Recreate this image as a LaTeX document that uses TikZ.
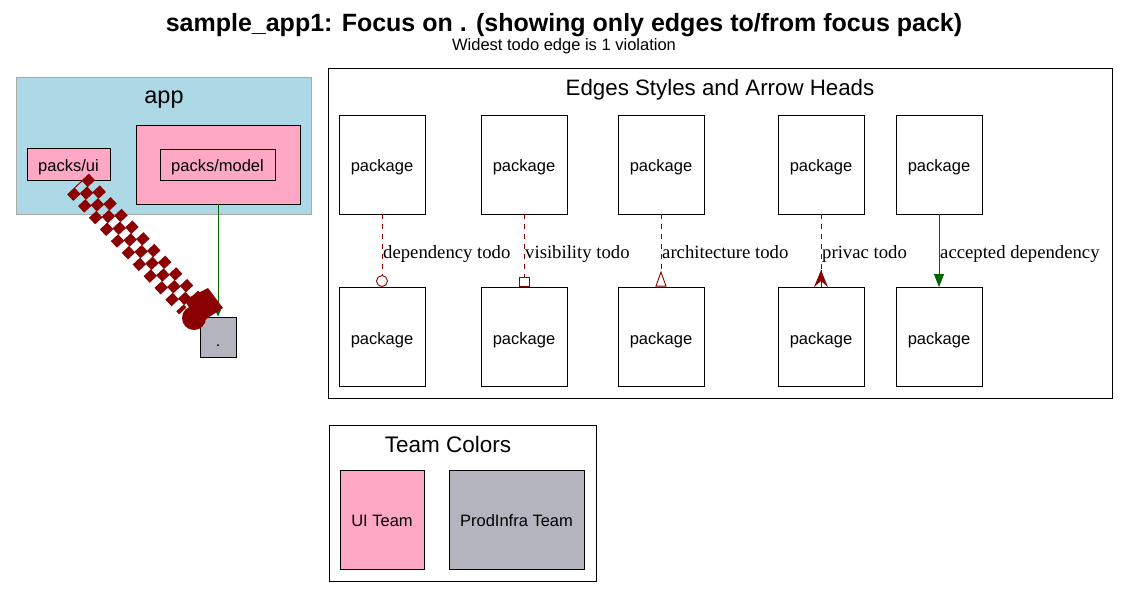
\documentclass[tikz,border=0pt]{standalone}
\usepackage{fontspec}
\setmainfont{Liberation Sans}
\newfontfamily\seriffont{Liberation Serif}
\usetikzlibrary{arrows.meta}
\definecolor{clblue}{HTML}{ADD8E6}
\definecolor{tpink}{HTML}{FFA8C6}
\definecolor{tgray}{HTML}{B4B4BE}
\definecolor{dred}{HTML}{8B0000}
\definecolor{dgreen}{HTML}{006400}
\definecolor{cgray}{HTML}{A9A9A9}
\tikzset{
  nfont/.style={font=\fontsize{16.5}{18}\selectfont, text height=14pt, text depth=0pt},
  pkgbox/.style={draw=black, fill=white, line width=0.9pt, minimum width=86pt, minimum height=99pt, inner sep=0pt, nfont},
  lbl/.style={anchor=base west, inner sep=0pt, font=\seriffont\fontsize{18.7}{21}\selectfont},
  todo/.style={draw=dred, line width=0.9pt, dash pattern=on 5pt off 5pt},
  fat todo/.style={draw=dred, line width=10pt, dash pattern=on 9pt off 7pt},
  frame/.style={draw=black, line width=0.9pt},
}
\begin{document}
\begin{tikzpicture}[x=1pt,y=-1pt]
\useasboundingbox (0,0) rectangle (1128,598);
\fill[white] (0,0) rectangle (1128,598);
% title
\node[font=\bfseries\fontsize{25}{27}\selectfont, inner sep=0pt] (title) at (564,25) {sample\_app1: Focus on . (showing only edges to/from focus pack)};
\node[font=\fontsize{16.5}{18}\selectfont, inner sep=0pt] (subtitle) at (564,46) {Widest todo edge is 1 violation};
% app cluster
\draw[cgray, fill=clblue, line width=1pt] (16,77) rectangle (311,214);
\node[font=\fontsize{23.5}{26}\selectfont, inner sep=0pt] (applbl) at (164,100) {app};
\node[draw=black, fill=tpink, line width=0.9pt, minimum width=83pt, minimum height=32pt, inner sep=0pt, nfont] (ui) at (68.5,164) {packs/ui};
\node[draw=black, fill=tpink, line width=0.9pt, minimum width=164pt, minimum height=79pt, inner sep=0pt] (modelc) at (218,164.5) {};
\node[draw=black, fill=tpink, line width=0.9pt, minimum width=115pt, minimum height=31pt, inner sep=0pt, nfont] (model) at (217.5,164.5) {packs/model};
\node[draw=black, fill=tgray, line width=0.9pt, minimum width=36pt, minimum height=40pt, inner sep=0pt, font=\fontsize{16}{18}\selectfont, text height=18pt, text depth=0pt] (focus) at (218,337) {.};
% green edge
\draw[dgreen, line width=0.9pt, -{Triangle[length=7pt,width=6pt]}] (modelc.south -| focus.north) -- (focus.north);
% thick dashed edge
\coordinate (ta) at (78,184);
\coordinate (tb) at (190,304);
\draw[fat todo] ([shift={(7.2,-6.9)}]ta) -- ([shift={(7.2,-6.9)}]tb);
\draw[fat todo, dash phase=8pt] (ta) -- (tb);
\draw[fat todo] ([shift={(-7.2,6.9)}]ta) -- ([shift={(-7.2,6.9)}]tb);
\fill[dred] (194,318) circle (12);
\fill[dred] (184,300) -- (208,288) -- (223,308) -- (200,323) -- cycle;
% legend
\draw[frame] (328,68) rectangle (1112,398);
\node[font=\fontsize{22.3}{25}\selectfont, inner sep=0pt] (legtitle) at (720,90) {Edges Styles and Arrow Heads};
\foreach \n/\x in {a/382,b/524,c/661,d/821,e/939}{
  \node[pkgbox] (\n1) at (\x,164.5) {package};
  \node[pkgbox] (\n2) at (\x,337) {package};
}
% odot
\draw[todo] (a1.south) -- ([yshift=11.5pt]a2.north);
\draw[dred, line width=0.9pt, fill=white] ([yshift=6pt]a2.north) circle (5.5);
\node[lbl] (la) at ([xshift=1pt]a1.south |- 0,258) {dependency todo};
% box
\draw[todo] (b1.south) -- ([yshift=10pt]b2.north);
\draw[dred, line width=0.9pt, fill=white] ([xshift=-5pt,yshift=0.5pt]b2.north) rectangle ([xshift=5pt,yshift=10pt]b2.north);
\node[lbl] (lb) at ([xshift=1pt]b1.south |- 0,258) {visibility todo};
% triangle
\draw[todo] (c1.south) -- ([yshift=15pt]c2.north);
\draw[dred, line width=0.9pt, fill=white] ([yshift=15pt]c2.north) -- ([xshift=5pt,yshift=1pt]c2.north) -- ([xshift=-5pt,yshift=1pt]c2.north) -- cycle;
\node[lbl] (lc) at ([xshift=1pt]c1.south |- 0,258) {architecture todo};
% crow
\draw[todo] (d1.south) -- ([yshift=17pt]d2.north);
\fill[dred] ([yshift=17pt]d2.north) -- ([xshift=7pt]d2.north) -- ([yshift=6pt]d2.north) -- ([xshift=-7pt]d2.north) -- cycle;
\draw[dred, line width=0.9pt] ([yshift=17pt]d2.north) -- (d2.north);
\node[lbl] (ld) at ([xshift=1pt]d1.south |- 0,258) {privac todo};
% accepted
\draw[dgreen, line width=0.9pt, -{Triangle[length=13pt,width=10pt]}] (e1.south) -- (e2.north);
\node[lbl] (le) at ([xshift=1pt]e1.south |- 0,258) {accepted dependency};
% team colors
\draw[frame] (329,425) rectangle (596,581);
\node[font=\fontsize{22.5}{25}\selectfont, inner sep=0pt] (teamtitle) at (448,444) {Team Colors};
\node[draw=black, fill=tpink, line width=0.9pt, minimum width=84pt, minimum height=99pt, inner sep=0pt, nfont] (uiteam) at (382,519.5) {UI Team};
\node[draw=black, fill=tgray, line width=0.9pt, minimum width=135pt, minimum height=99pt, inner sep=0pt, nfont] (pteam) at (516.5,519.5) {ProdInfra Team};
\end{tikzpicture}
\end{document}
